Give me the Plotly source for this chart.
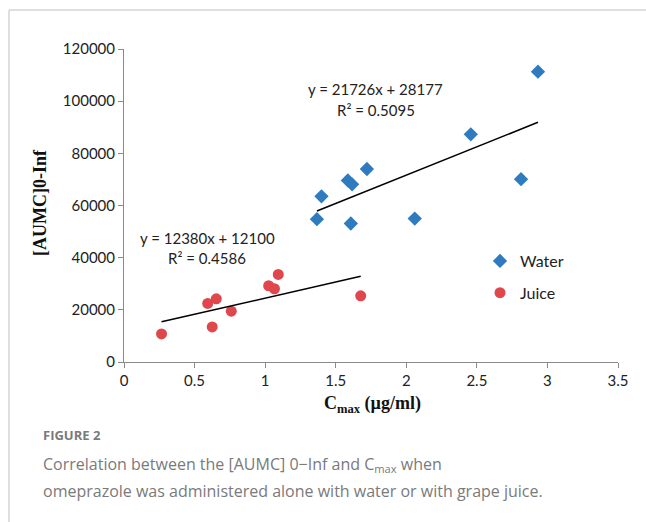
import plotly.graph_objects as go

# Data
water_x = [1.367, 1.399, 1.586, 1.616, 1.607, 1.721, 2.060, 2.457, 2.813, 2.933]
water_y = [54740, 63500, 69600, 68100, 53100, 74000, 55000, 87300, 70100, 111300]
juice_x = [0.266, 0.593, 0.654, 0.625, 0.760, 1.025, 1.066, 1.093, 1.677]
juice_y = [10770, 22440, 24230, 13460, 19490, 29230, 28080, 33590, 25380]

water_fit = {"slope": 21726, "intercept": 28177, "r2": 0.5095}
juice_fit = {"slope": 12380, "intercept": 12100, "r2": 0.4586}

x_ticks = [0, 0.5, 1, 1.5, 2, 2.5, 3, 3.5]
y_ticks = [0, 20000, 40000, 60000, 80000, 100000, 120000]

W, H = 646, 522
def px(x):
    return x / W
def py(y):
    return 1 - y / H

def fit_line(xs, fit):
    x0, x1 = min(xs), max(xs)
    return [x0, x1], [fit["slope"] * x0 + fit["intercept"], fit["slope"] * x1 + fit["intercept"]]

SANS = "Lato, Liberation Sans, sans-serif"
SERIF = "Liberation Serif, Times New Roman, serif"

fig = go.Figure()
fig.add_trace(go.Scatter(x=water_x, y=water_y, mode="markers", name="Water",
                         legendgroup="w",
                         marker=dict(symbol="diamond", size=11, color="#2E7BC0")))
fig.add_trace(go.Scatter(x=juice_x, y=juice_y, mode="markers", name="Juice",
                         legendgroup="j",
                         marker=dict(symbol="circle", size=11, color="#E0474C")))
lx, ly = fit_line(water_x, water_fit)
fig.add_trace(go.Scatter(x=lx, y=ly, mode="lines", showlegend=False,
                         line=dict(color="black", width=1.5)))
lx, ly = fit_line(juice_x, juice_fit)
fig.add_trace(go.Scatter(x=lx, y=ly, mode="lines", showlegend=False,
                         line=dict(color="black", width=1.5)))

tickfont = dict(family=SANS, size=15, color="#222")
axis_common = dict(showline=True, linecolor="#8a8a8a", linewidth=1, ticks="outside",
                   ticklen=5, tickcolor="#8a8a8a", showgrid=False, zeroline=False,
                   tickfont=tickfont, automargin=False)

fig.update_layout(
    width=W, height=H, margin=dict(l=0, r=0, t=0, b=0, autoexpand=False),
    paper_bgcolor="white", plot_bgcolor="white",
    xaxis=dict(domain=[px(124), px(618)], range=[0, 3.5], tickvals=x_ticks,
               ticktext=[f"{t:g}" for t in x_ticks], **axis_common),
    yaxis=dict(domain=[py(362), py(49)], range=[0, 120000], tickvals=y_ticks,
               ticktext=[str(t) for t in y_ticks], **axis_common),
    legend=dict(x=px(480), y=py(244), xanchor="left", yanchor="top",
                font=dict(family=SANS, size=16, color="#222"),
                tracegroupgap=8, itemwidth=30, bgcolor="rgba(0,0,0,0)"),
    showlegend=True,
)

eqfont = dict(family=SANS, size=15, color="#222")
ann = [
    dict(x=px(376), y=py(89), text=f"y = {water_fit['slope']}x + {water_fit['intercept']}", font=eqfont),
    dict(x=px(376), y=py(110), text=f"R² = {water_fit['r2']}", font=eqfont),
    dict(x=px(207), y=py(238), text=f"y = {juice_fit['slope']}x + {juice_fit['intercept']}", font=eqfont),
    dict(x=px(207), y=py(258), text=f"R² = {juice_fit['r2']}", font=eqfont),
    dict(x=px(372), y=py(404), text="<b>C<sub>max</sub> (µg/ml)</b>",
         font=dict(family=SERIF, size=18, color="#111")),
    dict(x=px(40), y=py(203), text="<b>[AUMC]0-Inf</b>", textangle=-90,
         font=dict(family=SERIF, size=18, color="#111")),
]
for a in ann:
    a.update(xref="paper", yref="paper", showarrow=False, xanchor="center", yanchor="middle")
    fig.add_annotation(**a)

capfont = dict(family="Open Sans, sans-serif", size=16, color="#7a7a7a")
fig.add_annotation(xref="paper", yref="paper", x=px(41), y=py(435), xanchor="left", yanchor="middle",
                   showarrow=False, text="<b>FIGURE 2</b>",
                   font=dict(family="Open Sans, sans-serif", size=13, color="#7a7a7a"))
fig.add_annotation(xref="paper", yref="paper", x=px(41), y=py(464), xanchor="left", yanchor="middle",
                   showarrow=False,
                   text="Correlation between the [AUMC] 0−Inf and C<sub>max</sub> when", font=capfont)
fig.add_annotation(xref="paper", yref="paper", x=px(41), y=py(491), xanchor="left", yanchor="middle",
                   showarrow=False,
                   text="omeprazole was administered alone with water or with grape juice.", font=capfont)

# Frame lines
fig.add_shape(type="line", xref="paper", yref="paper", x0=px(9), x1=1, y0=py(10), y1=py(10),
              line=dict(color="#d4d4d4", width=1.5))
fig.add_shape(type="line", xref="paper", yref="paper", x0=px(9), x1=px(9), y0=py(10), y1=0,
              line=dict(color="#d4d4d4", width=1.5))

fig.write_html("out.html")
